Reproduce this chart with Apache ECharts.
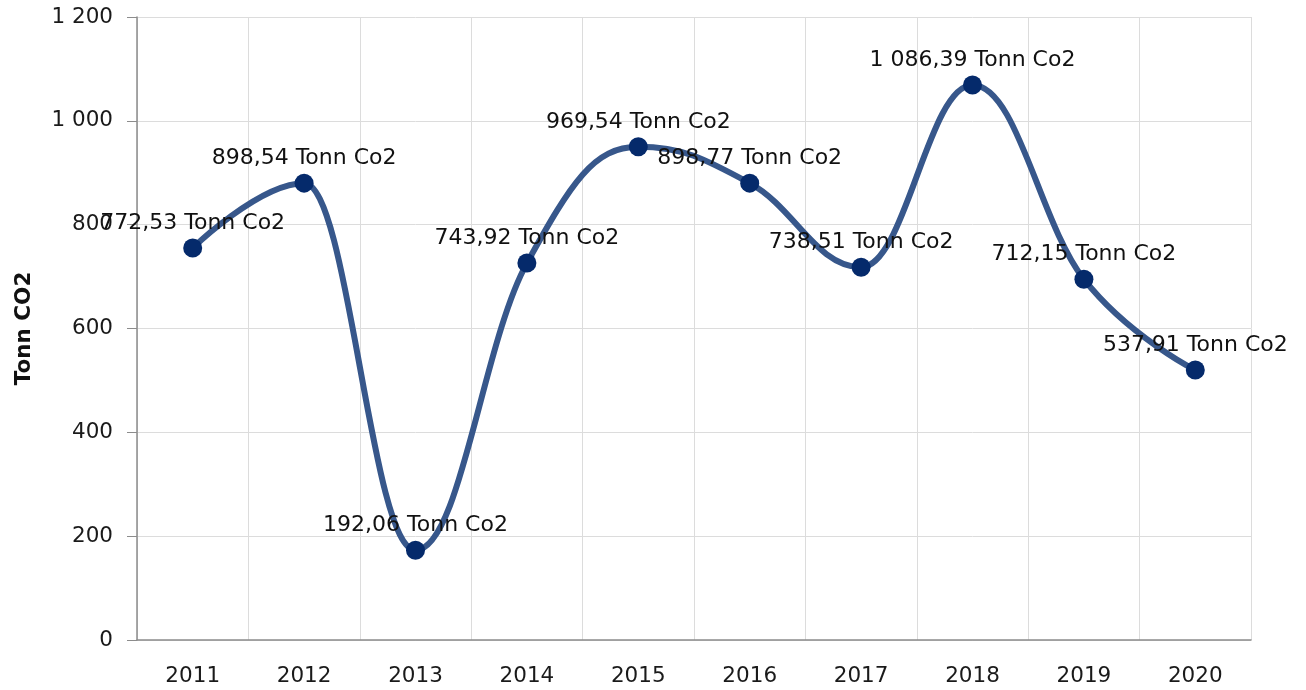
<!DOCTYPE html>
<html>
<head>
<meta charset="utf-8">
<script src="https://cdn.jsdelivr.net/npm/echarts@6/dist/echarts.min.js"></script>
<style>
  html, body { margin: 0; padding: 0; background: #fff; }
  #co2 { width: 1306px; height: 690px; }
</style>
</head>
<body>
<div id="co2"></div>
<script>
// years on x axis
const years = ['2011', '2012', '2013', '2014', '2015', '2016', '2017', '2018', '2019', '2020']
// plotted values
const co2Values = [755, 880, 173, 726, 950, 880, 718, 1069, 695, 520]
// data label texts as printed
const co2Labels = ['772,53', '898,54', '192,06', '743,92', '969,54', '898,77', '738,51', '1 086,39', '712,15', '537,91']
const yTicks = [0, 200, 400, 600, 800, 1000, 1200]

let myChart = echarts.init(document.getElementById('co2'))

const fmtNum = (v) => String(v).replace(/\B(?=(\d{3})+(?!\d))/g, ' ')

// spline control points (pixel space), flat at local extremes
const ctrl = (api, k) => {
  if (k <= 0 || k >= co2Values.length - 1) return null
  const [lx, ly] = api.coord([k - 1, co2Values[k - 1]])
  const [x, y] = api.coord([k, co2Values[k]])
  const [nx, ny] = api.coord([k + 1, co2Values[k + 1]])
  const s = 1.5, d = s + 1
  let lcx = (s * x + lx) / d, lcy = (s * y + ly) / d
  let rcx = (s * x + nx) / d, rcy = (s * y + ny) / d
  const corr = ((rcy - lcy) * (rcx - x)) / (rcx - lcx) + y - rcy
  lcy += corr
  rcy += corr
  if (lcy > ly && lcy > y) { lcy = Math.max(ly, y); rcy = 2 * y - lcy }
  else if (lcy < ly && lcy < y) { lcy = Math.min(ly, y); rcy = 2 * y - lcy }
  if (rcy > ny && rcy > y) { rcy = Math.max(ny, y); lcy = 2 * y - rcy }
  else if (rcy < ny && rcy < y) { rcy = Math.min(ny, y); lcy = 2 * y - rcy }
  return { left: [lcx, lcy], right: [rcx, rcy] }
}

const renderSegment = (params, api) => {
  const i = params.dataIndex
  if (i === 0) return null
  const p0 = api.coord([i - 1, co2Values[i - 1]])
  const p1 = api.coord([i, co2Values[i]])
  const c0 = ctrl(api, i - 1)
  const c1 = ctrl(api, i)
  const cp1 = c0 ? c0.right : p0
  const cp2 = c1 ? c1.left : p1
  return {
    type: 'bezierCurve',
    shape: {
      x1: p0[0], y1: p0[1], x2: p1[0], y2: p1[1],
      cpx1: cp1[0], cpy1: cp1[1], cpx2: cp2[0], cpy2: cp2[1],
    },
    style: { stroke: '#37578b', lineWidth: 6, fill: null, lineCap: 'round' },
  }
}

let option = {
  animation: false,
  textStyle: { fontFamily: 'DejaVu Sans' },
  grid: {
    left: 137,
    right: 55,
    top: 17,
    bottom: 50,
    outerBoundsMode: 'none',
  },
  xAxis: {
    type: 'category',
    data: years,
    boundaryGap: true,
    axisLine: { lineStyle: { color: '#8c8c8c', width: 1.5 } },
    axisTick: { alignWithLabel: true, length: 8, lineStyle: { color: '#8c8c8c' } },
    axisLabel: { color: '#1a1a1a', fontSize: 21.5, margin: 25 },
    splitLine: { show: true, lineStyle: { color: '#dcdcdc' } },
  },
  yAxis: {
    type: 'value',
    min: yTicks[0],
    max: yTicks[yTicks.length - 1],
    interval: 200,
    name: 'Tonn CO2',
    nameLocation: 'middle',
    nameGap: 102,
    nameTextStyle: { fontWeight: 'bold', fontSize: 21.5, color: '#111' },
    axisLine: { show: true, lineStyle: { color: '#8c8c8c', width: 1.5 } },
    axisTick: { show: true, length: 10, lineStyle: { color: '#8c8c8c' } },
    axisLabel: {
      color: '#1a1a1a',
      fontSize: 21.5,
      margin: 24,
      formatter: (v) => fmtNum(v),
    },
    splitLine: { lineStyle: { color: '#dcdcdc' } },
  },
  series: [
    {
      name: 'CO2 line',
      type: 'custom',
      data: co2Values.map((v, i) => [i, v]),
      encode: { x: 0, y: 1 },
      renderItem: renderSegment,
      silent: true,
      z: 2,
    },
    {
      name: 'CO2',
      type: 'line',
      data: co2Values,
      symbol: 'circle',
      symbolSize: 19,
      lineStyle: { opacity: 0 },
      itemStyle: { color: '#052a6b' },
      label: {
        show: true,
        position: 'top',
        distance: 4,
        color: '#111',
        fontSize: 22,
        formatter: (p) => co2Labels[p.dataIndex] + ' Tonn Co2',
      },
      z: 3,
    },
  ],
}

myChart.setOption(option)
</script>
</body>
</html>
